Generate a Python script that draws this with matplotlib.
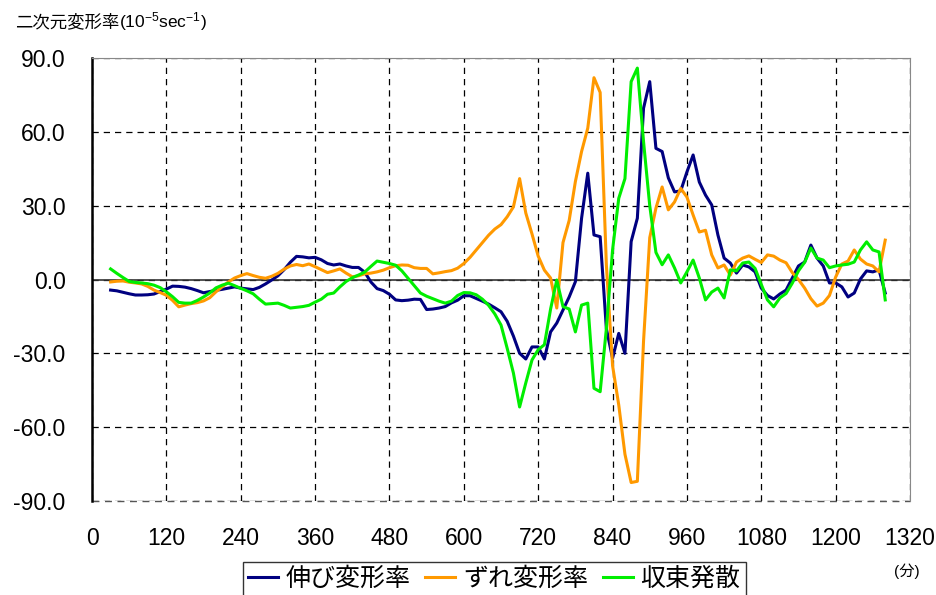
import numpy as np
import matplotlib
matplotlib.use("Agg")
import matplotlib.pyplot as plt

plt.rcParams['font.family'] = ['Liberation Sans', 'Noto Sans CJK JP']
plt.rcParams['mathtext.fontset'] = 'custom'
plt.rcParams['mathtext.rm'] = 'Liberation Sans'
plt.rcParams['mathtext.it'] = 'Liberation Sans'
plt.rcParams['axes.unicode_minus'] = False

# 時刻 (分)
minutes = np.arange(30, 1290, 10)

# 伸び変形率
nobi = [-4.3, -4.6, -5.2, -5.8, -6.3, -6.3, -6.2, -5.9, -4.9, -3.9,
        -2.7, -2.8, -3.1, -3.7, -4.5, -5.4, -4.9, -4.4, -4.0, -3.5,
        -3.0, -3.5, -3.8, -4.1, -3.2, -1.8, -0.2, 1.5, 4.0, 7.0,
        9.4, 9.2, 8.8, 9.0, 8.0, 6.5, 5.9, 6.3, 5.5, 4.9,
        4.9, 3.0, -1.0, -3.7, -4.5, -6.0, -8.3, -8.6, -8.4, -8.0,
        -8.1, -12.2, -12.0, -11.6, -11.0, -9.5, -8.4, -6.6, -6.6, -7.7,
        -8.8, -10.0, -11.5, -13.1, -17.0, -23.0, -30.0, -32.3, -27.4, -27.4,
        -32.3, -21.3, -17.7, -12.4, -7.1, -0.9, 24.9, 43.2, 18.1, 17.4,
        -20.0, -32.0, -21.9, -30.0, 15.4, 24.9, 69.6, 80.4, 53.3, 52.0,
        41.3, 35.6, 36.0, 43.7, 50.6, 39.6, 34.3, 30.3, 18.1, 8.7,
        6.7, 2.6, 5.9, 5.1, 3.1, -3.5, -6.5, -7.9, -5.9, -4.3,
        0.6, 5.5, 7.1, 14.0, 8.7, 5.5, -1.4, -1.4, -3.0, -7.1,
        -5.5, 0.2, 3.5, 3.1, 3.9, -5.5]

# ずれ変形率
zure = [-1.0, -0.7, -0.6, -1.1, -1.4, -1.8, -2.8, -4.3, -5.3, -6.4,
        -8.5, -11.1, -10.4, -9.8, -9.4, -8.7, -7.4, -5.0, -3.0, -1.0,
        0.6, 1.6, 2.4, 1.6, 0.9, 0.5, 1.3, 2.5, 4.2, 5.5,
        6.1, 5.6, 6.3, 5.2, 4.0, 2.8, 3.5, 4.3, 2.6, 1.1,
        1.5, 2.3, 2.6, 3.1, 3.8, 4.8, 5.6, 5.9, 5.8, 4.8,
        4.5, 4.5, 2.3, 2.7, 3.2, 3.6, 4.6, 6.5, 9.0, 12.0,
        15.0, 18.0, 20.5, 22.3, 25.5, 29.5, 41.0, 27.0, 18.5, 9.5,
        3.8, 0.6, -11.6, 15.0, 24.0, 39.8, 52.0, 61.5, 82.0, 76.0,
        6.0, -35.0, -51.0, -71.0, -82.5, -82.0, -25.0, 17.0, 29.0, 37.6,
        28.3, 31.5, 37.0, 33.5, 26.2, 19.3, 20.0, 10.0, 4.7, 5.9,
        1.8, 7.1, 8.7, 9.6, 8.2, 6.9, 10.0, 9.5, 7.9, 6.8,
        2.8, 0.0, -3.5, -7.8, -10.8, -9.6, -6.5, 1.0, 6.3, 7.5,
        12.0, 8.3, 6.3, 5.5, 3.1, 16.0]

# 収束発散
shusoku = [4.3, 2.5, 0.8, -0.8, -1.2, -1.4, -1.7, -2.3, -3.3, -5.0,
           -7.0, -9.3, -9.6, -9.6, -8.5, -7.1, -5.5, -3.4, -2.3, -1.5,
           -2.5, -3.6, -4.6, -5.8, -8.0, -10.0, -9.8, -9.6, -10.5, -11.6,
           -11.3, -11.0, -10.5, -9.2, -8.0, -6.0, -5.5, -3.0, -0.8, 0.7,
           1.8, 3.0, 5.3, 7.5, 7.0, 6.5, 5.8, 3.5, 0.5, -2.5,
           -5.5, -6.8, -7.8, -8.8, -9.6, -8.8, -6.5, -5.3, -5.4, -6.2,
           -8.0, -10.5, -14.0, -18.5, -28.0, -38.0, -51.8, -42.0, -32.7, -28.5,
           -26.5, -12.0, -0.2, -11.0, -12.0, -21.3, -10.4, -9.6, -44.2, -45.6,
           -20.0, 12.0, 33.0, 41.0, 80.4, 85.9, 56.0, 30.0, 11.0, 6.0,
           10.0, 4.7, -1.4, 3.1, 7.9, 0.6, -8.3, -5.1, -3.5, -7.5,
           3.9, 3.5, 6.7, 7.1, 4.5, -2.0, -8.3, -11.1, -7.5, -5.7,
           -1.5, 3.5, 7.0, 12.8, 8.7, 7.9, 4.8, 5.5, 5.9, 6.2,
           7.1, 12.0, 15.3, 12.0, 11.2, -8.3]

series_names = ["伸び変形率", "ずれ変形率", "収束発散"]
series_colors = ["#000080", "#FF9900", "#00EE00"]

x_ticks = np.arange(0, 1321, 120)
y_ticks = np.arange(-90, 91, 30)

fig = plt.figure(figsize=(9.37, 5.95), dpi=100)
ax = fig.add_axes([0.0982, 0.158, 0.873, 0.7445])

for vals, name, col in zip([nobi, zure, shusoku], series_names, series_colors):
    ax.plot(minutes, vals, color=col, lw=2.2, label=name, zorder=3)

ax.axhline(0, color="#333333", lw=1.2, zorder=2)

ax.set_xlim(0, 1320)
ax.set_ylim(-90, 90)
ax.set_xticks(x_ticks)
ax.set_yticks(y_ticks)
ax.set_yticklabels([f"{v:.1f}" for v in y_ticks])
ax.tick_params(axis="both", length=0, labelsize=16.5, colors="black")
ax.tick_params(axis="x", pad=19)
ax.tick_params(axis="y", pad=19)

ax.grid(True, color="black", linestyle=(0, (5, 4)), lw=0.9)
ax.axhline(-90, color="#555555", linestyle=(0, (5, 4)), lw=1.0, clip_on=False)

ax.spines["left"].set_color("black")
ax.spines["left"].set_linewidth(1.8)
ax.spines["top"].set_color("#888888")
ax.spines["right"].set_color("#888888")
ax.spines["bottom"].set_visible(False)

# 縦軸タイトル: 日本語部分と単位部分を並べて描く
t1 = fig.text(15 / 937, 1 - 22 / 595, "二次元変形率", fontsize=12.5,
              va="center", ha="left", family="Noto Sans CJK JP")
fig.canvas.draw()
bb = t1.get_window_extent()
fig.text(bb.x1 / fig.bbox.width, 1 - 22 / 595, "(10$^{-5}$sec$^{-1}$)",
         fontsize=12.5, va="center", ha="left")
fig.text(907 / 937, 1 - 571 / 595, "(分)", fontsize=11, va="center", ha="center")

leg = fig.legend(loc="upper left", bbox_to_anchor=(243 / 937, 1 - 562 / 595),
                 ncol=3, fontsize=18, frameon=True, fancybox=False,
                 handlelength=1.2, handletextpad=0.3, columnspacing=0.6,
                 borderpad=0.2, borderaxespad=0)
leg.get_frame().set_edgecolor("black")
leg.get_frame().set_linewidth(1.0)
for h in leg.get_lines():
    h.set_linewidth(2.2)

fig.savefig("out.png", dpi=100)
